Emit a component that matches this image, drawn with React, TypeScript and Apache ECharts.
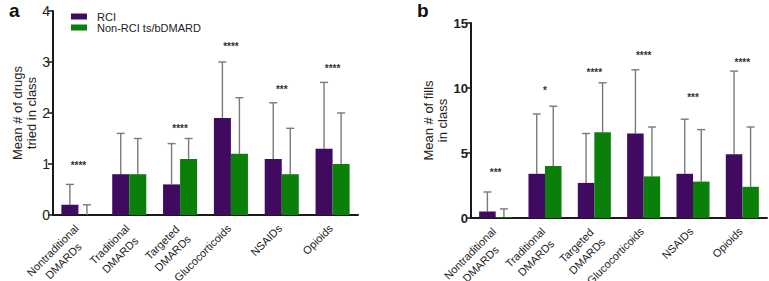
import React, { useEffect, useRef } from "react";
import * as echarts from "echarts";

const categories = [
  "Nontraditional\nDMARDs",
  "Traditional\nDMARDs",
  "Targeted\nDMARDs",
  "Glucocorticoids",
  "NSAIDs",
  "Opioids",
];
const seriesNames = ["RCI", "Non-RCI ts/bDMARD"];

// Panel a: mean # of drugs tried in class
const drugsRCI = [0.2, 0.8, 0.6, 1.9, 1.1, 1.3];
const drugsRCISD = [0.4, 0.8, 0.8, 1.1, 1.1, 1.3];
const drugsNon = [0.0, 0.8, 1.1, 1.2, 0.8, 1.0];
const drugsNonSD = [0.2, 0.7, 0.4, 1.1, 0.9, 1.0];
const drugsSig = ["****", "", "****", "****", "***", "****"];
const drugsSigY = [0.97, 0, 1.7, 3.3, 2.47, 2.88];
const drugsTicks = [0, 1, 2, 3, 4];

// Panel b: mean # of fills in class
const fillsRCI = [0.5, 3.4, 2.7, 6.5, 3.4, 4.9];
const fillsRCISD = [1.5, 4.6, 3.8, 4.9, 4.2, 6.4];
const fillsNon = [0.05, 4.0, 6.6, 3.2, 2.8, 2.4];
const fillsNonSD = [0.65, 4.6, 3.8, 3.8, 4.0, 4.6];
const fillsSig = ["***", "*", "****", "****", "***", "****"];
const fillsSigY = [3.5, 9.8, 11.2, 12.5, 9.3, 12.0];
const fillsTicks = [0, 5, 10, 15];

const PURPLE = "#3f0a5f";
const GREEN = "#0a7f0a";
const FONT = "'Liberation Sans', Arial, Helvetica, sans-serif";
const CAT_GAP = 0.33;
const H = 300; // taller than the 281px view so rotated labels can run past the bottom edge

function errorSeries(grid: number, means: number[], sds: number[], side: number) {
  return {
    type: "custom",
    xAxisIndex: grid,
    yAxisIndex: grid,
    silent: true,
    z: 1,
    data: means.map((m, i) => [i, m, sds[i]]),
    renderItem: (params: any, api: any) => {
      const cat = api.value(0);
      const mean = api.value(1);
      const sd = api.value(2);
      const base = api.coord([cat, mean]);
      const top = api.coord([cat, mean + sd]);
      const catW = api.size([1, 0])[0];
      const barW = (catW * (1 - CAT_GAP)) / 2;
      const x = base[0] + side * (barW / 2);
      const style = { stroke: "#7a7a7a", lineWidth: 1.4 };
      return {
        type: "group",
        children: [
          { type: "line", shape: { x1: x, y1: base[1], x2: x, y2: top[1] }, style },
          { type: "line", shape: { x1: x - 4, y1: top[1], x2: x + 4, y2: top[1] }, style },
        ],
      };
    },
  };
}

function sigSeries(grid: number, labels: string[], ys: number[]) {
  return {
    type: "custom",
    xAxisIndex: grid,
    yAxisIndex: grid,
    silent: true,
    z: 3,
    data: ys.map((y, i) => [i, y]),
    renderItem: (params: any, api: any) => {
      const p = api.coord([api.value(0), api.value(1)]);
      return {
        type: "text",
        x: p[0],
        y: p[1],
        style: {
          text: labels[params.dataIndex],
          textAlign: "center",
          textVerticalAlign: "middle",
          fontSize: 10,
          fontWeight: "bold",
          fontFamily: FONT,
          fill: "#333",
        },
      };
    },
  };
}

function xAxis(grid: number) {
  return {
    type: "category",
    gridIndex: grid,
    data: categories,
    axisLine: { lineStyle: { color: "#1a1a1a", width: 2 } },
    axisTick: { alignWithLabel: true, length: 4, lineStyle: { color: "#1a1a1a", width: 1.5 } },
    axisLabel: {
      interval: 0,
      rotate: 45,
      margin: -1,
      align: "right",
      verticalAlign: "top",
      padding: [0, 10, 0, 0],
      color: "#222",
      fontSize: 11,
      lineHeight: 15,
      fontFamily: FONT,
      formatter: (v: string) => v.split("\n").map((s) => `{c|${s}}`).join("\n"),
      rich: { c: { align: "center", fontSize: 11, fontFamily: FONT, color: "#222", lineHeight: 15 } },
    },
  };
}

function yAxis(grid: number, ticks: number[], name: string, nameGap: number, bold: boolean, fs: number) {
  return {
    type: "value",
    gridIndex: grid,
    min: ticks[0],
    max: ticks[ticks.length - 1],
    interval: ticks[1] - ticks[0],
    name,
    nameLocation: "middle",
    nameRotate: 90,
    nameGap,
    nameTextStyle: { fontSize: 13, lineHeight: 14, color: "#222", fontFamily: FONT, align: "center" },
    axisLine: { show: true, lineStyle: { color: "#1a1a1a", width: 2 } },
    axisTick: { show: true, length: 5, lineStyle: { color: "#1a1a1a", width: 1.5 } },
    splitLine: { show: false },
    axisLabel: {
      margin: 3,
      fontSize: fs,
      fontWeight: bold ? "bold" : "normal",
      color: "#222",
      fontFamily: FONT,
    },
  };
}

function bars(grid: number, rci: number[], non: number[]) {
  return [
    {
      name: seriesNames[0],
      type: "bar",
      xAxisIndex: grid,
      yAxisIndex: grid,
      data: rci,
      barGap: "0%",
      barCategoryGap: `${CAT_GAP * 100}%`,
      itemStyle: { color: PURPLE },
      z: 2,
    },
    {
      name: seriesNames[1],
      type: "bar",
      xAxisIndex: grid,
      yAxisIndex: grid,
      data: non,
      barGap: "0%",
      barCategoryGap: `${CAT_GAP * 100}%`,
      itemStyle: { color: GREEN },
      z: 2,
    },
  ];
}

export default function App() {
  const ref = useRef<HTMLDivElement>(null);
  useEffect(() => {
    if (!ref.current) return;
    const chart = echarts.init(ref.current, undefined, { renderer: "svg" });
    chart.setOption({
      animation: false,
      backgroundColor: "#ffffff",
      textStyle: { fontFamily: FONT },
      legend: {
        data: seriesNames,
        orient: "vertical",
        left: 66,
        top: 6,
        itemWidth: 16,
        itemHeight: 6,
        itemGap: 0,
        icon: "rect",
        selectedMode: false,
        formatter: "{t|{name}}",
        textStyle: {
          fontSize: 11,
          color: "#222",
          fontFamily: FONT,
          rich: { t: { fontSize: 11, lineHeight: 12, color: "#222", fontFamily: FONT, padding: [0, 0, 0, 5] } },
        },
      },
      grid: [
        { left: 53, right: 411, top: 11, height: 204, containLabel: false, outerBoundsMode: "none" },
        { left: 471, right: 2, top: 23, height: 195, containLabel: false, outerBoundsMode: "none" },
      ],
      xAxis: [xAxis(0), xAxis(1)],
      yAxis: [
        yAxis(0, drugsTicks, "Mean # of drugs\ntried in class", 9, false, 14),
        yAxis(1, fillsTicks, "Mean # of fills\nin class", 12, true, 13),
      ],
      graphic: [
        { type: "text", left: 9, top: 1, style: { text: "a", fontSize: 19, fontWeight: "bold", fontFamily: FONT, fill: "#111" } },
        { type: "text", left: 417, top: 1, style: { text: "b", fontSize: 19, fontWeight: "bold", fontFamily: FONT, fill: "#111" } },
      ],
      series: [
        ...bars(0, drugsRCI, drugsNon),
        errorSeries(0, drugsRCI, drugsRCISD, -1),
        errorSeries(0, drugsNon, drugsNonSD, 1),
        sigSeries(0, drugsSig, drugsSigY),
        ...bars(1, fillsRCI, fillsNon),
        errorSeries(1, fillsRCI, fillsRCISD, -1),
        errorSeries(1, fillsNon, fillsNonSD, 1),
        sigSeries(1, fillsSig, fillsSigY),
      ],
    });
    return () => chart.dispose();
  }, []);
  return (
    <div
      ref={ref}
      style={{ position: "fixed", left: 0, top: 0, width: 769, height: H, background: "#fff" }}
    />
  );
}
